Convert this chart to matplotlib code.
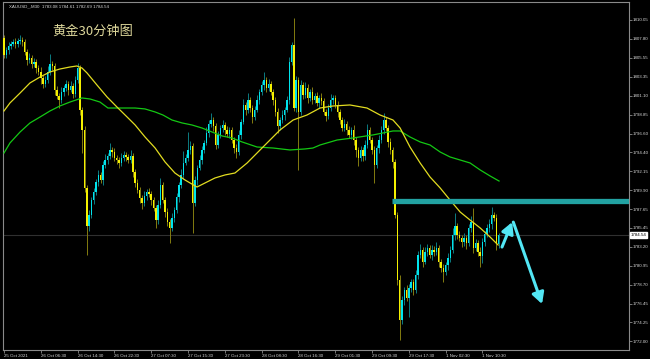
import matplotlib
matplotlib.use('Agg')
import matplotlib.pyplot as plt
import numpy as np

# ---------------------------------------------------------------------------
# XAUUSD M30 candles

first_open = 1807.92
closes = [
    1805.90, 1806.50, 1806.97, 1807.21, 1807.44, 1807.21, 1807.56, 1807.68, 1807.44, 1806.26,
    1805.31, 1805.55, 1804.84, 1805.07, 1804.36, 1803.89, 1803.18, 1802.47, 1802.94, 1803.89,
    1804.84, 1804.60, 1801.76, 1801.05, 1800.57, 1801.52, 1801.99, 1802.47, 1801.76, 1802.23,
    1801.28, 1802.94, 1804.36, 1799.39, 1797.02, 1790.15, 1785.64, 1786.95, 1788.72, 1789.67,
    1790.86, 1791.69, 1791.09, 1792.87, 1793.46, 1793.94, 1794.65, 1794.41, 1793.70, 1793.46,
    1793.11, 1793.70, 1794.06, 1793.82, 1793.46, 1793.94, 1792.04, 1790.74, 1789.91, 1788.96,
    1788.37, 1789.20, 1789.67, 1789.43, 1788.72, 1787.78, 1786.35, 1788.13, 1790.50, 1788.72,
    1787.30, 1786.12, 1785.41, 1786.59, 1787.54, 1789.08, 1790.50, 1791.69, 1793.11, 1793.70,
    1794.65, 1795.12, 1788.37, 1791.09, 1792.52, 1793.46, 1794.65, 1795.48, 1796.66, 1797.73,
    1798.20, 1797.49, 1795.24, 1796.43, 1797.25, 1797.61, 1797.02, 1796.54, 1797.02, 1795.83,
    1794.88, 1794.41, 1796.43, 1797.97, 1799.98, 1799.39, 1800.57, 1799.62, 1798.56, 1799.39,
    1800.57, 1801.52, 1802.35, 1802.94, 1801.99, 1802.47, 1801.52, 1800.57, 1799.15, 1797.49,
    1798.20, 1798.79, 1799.39, 1800.57, 1805.07, 1807.09, 1799.62, 1802.94, 1799.15, 1802.35,
    1801.16, 1801.99, 1800.81, 1801.52, 1800.57, 1801.05, 1800.22, 1800.81, 1800.45, 1799.15,
    1798.68, 1799.62, 1800.57, 1800.81, 1799.98, 1799.15, 1798.20, 1797.25, 1797.73, 1797.02,
    1796.43, 1797.02, 1795.83, 1794.65, 1793.70, 1794.65, 1793.94, 1795.24, 1797.02, 1795.83,
    1794.65, 1792.87, 1794.88, 1795.83, 1797.02, 1798.20, 1797.25, 1795.60, 1794.65, 1793.23,
    1786.95, 1779.25, 1774.51, 1776.88, 1778.06, 1777.11, 1778.30, 1779.01, 1778.06, 1779.84,
    1782.21, 1782.80, 1781.38, 1782.56, 1783.04, 1782.21, 1782.80, 1782.56, 1783.04, 1781.38,
    1780.67, 1780.19, 1781.02, 1781.85, 1782.80, 1784.58, 1785.64, 1784.58, 1784.22, 1783.75,
    1784.22, 1783.63, 1785.41, 1786.12, 1783.04, 1783.63, 1782.56, 1782.09, 1783.75, 1784.70,
    1785.41, 1785.88, 1786.95, 1786.59, 1783.51, 1784.54,
]
wick_up = [
    0.3, 0.4, 0.5, 0.3, 0.4, 0.5, 0.3, 0.6, 0.4, 0.3,
    0.4, 0.6, 0.3, 0.5, 0.4, 0.3, 0.6, 0.4, 0.5, 0.7,
    1.2, 0.4, 0.3, 0.5, 0.4, 0.6, 0.3, 0.5, 0.4, 0.6,
    0.3, 0.5, 0.6, 0.3, 0.4, 0.5, 0.3, 0.6, 0.4, 0.5,
    0.4, 0.6, 0.3, 0.5, 0.7, 0.4, 0.8, 0.3, 0.5, 0.4,
    0.3, 0.6, 0.5, 0.4, 0.3, 0.7, 0.4, 0.3, 0.5, 0.4,
    0.3, 0.6, 0.4, 0.5, 0.3, 0.4, 0.3, 0.6, 0.8, 0.4,
    0.3, 0.5, 0.4, 0.6, 0.3, 0.5, 0.4, 0.7, 1.4, 0.5,
    2.1, 0.6, 0.4, 0.5, 0.3, 0.6, 0.5, 0.4, 0.7, 0.5,
    0.8, 0.4, 0.3, 0.5, 0.4, 0.6, 0.3, 0.5, 0.4, 0.3,
    0.4, 0.5, 0.6, 0.4, 0.7, 0.3, 0.8, 0.4, 0.3, 0.5,
    0.6, 0.4, 0.5, 0.9, 0.4, 0.6, 0.3, 0.4, 0.3, 0.5,
    0.4, 0.6, 0.3, 0.5, 0.6, 0.4, 3.2, 0.5, 0.4, 0.6,
    0.4, 0.7, 0.5, 0.3, 0.6, 0.4, 0.5, 0.3, 0.6, 0.4,
    0.3, 0.5, 0.7, 0.4, 0.3, 0.5, 0.4, 0.3, 0.6, 0.4,
    0.5, 0.3, 0.6, 0.4, 0.3, 0.5, 0.4, 0.6, 0.7, 0.4,
    0.3, 0.5, 0.4, 0.6, 0.5, 0.8, 0.4, 0.3, 0.5, 0.4,
    0.3, 0.4, 0.6, 0.5, 0.4, 0.6, 0.5, 0.4, 0.3, 0.6,
    0.5, 0.7, 0.4, 0.6, 0.5, 0.4, 0.6, 0.5, 0.7, 0.4,
    0.3, 0.5, 0.4, 0.6, 0.5, 0.8, 1.5, 0.4, 0.5, 0.3,
    0.6, 0.4, 0.5, 0.7, 1.7, 0.5, 0.4, 0.6, 0.5, 0.4,
    0.5, 0.6, 1.0, 0.4, 0.5, 0.3,
]
wick_dn = [
    0.4, 0.3, 0.5, 0.4, 0.3, 0.5, 0.4, 0.3, 0.5, 0.4,
    0.6, 0.3, 0.5, 0.4, 0.6, 0.3, 0.7, 0.5, 0.4, 0.3,
    0.4, 0.5, 0.6, 0.4, 1.0, 0.3, 0.5, 0.4, 0.6, 0.3,
    0.5, 0.4, 0.3, 0.6, 2.7, 0.5, 3.4, 0.6, 0.4, 0.5,
    0.3, 0.5, 0.4, 0.6, 0.3, 0.5, 0.4, 0.6, 0.3, 0.5,
    0.6, 0.4, 0.3, 0.5, 0.4, 0.3, 0.6, 0.5, 0.4, 0.6,
    0.7, 0.4, 0.5, 0.3, 0.6, 0.4, 0.9, 0.5, 0.3, 0.4,
    0.6, 0.5, 1.8, 0.4, 0.5, 0.3, 0.6, 0.4, 0.5, 0.3,
    0.4, 0.5, 3.5, 0.4, 0.6, 0.3, 0.5, 0.4, 0.3, 0.5,
    0.4, 0.6, 0.5, 0.3, 0.4, 0.5, 0.6, 0.3, 0.5, 0.4,
    0.6, 0.7, 0.4, 0.5, 0.3, 0.6, 0.4, 0.5, 0.7, 0.4,
    0.3, 0.5, 0.4, 0.6, 0.5, 0.3, 0.4, 0.6, 0.5, 0.8,
    0.5, 0.4, 0.6, 0.3, 0.5, 0.4, 0.3, 0.5, 6.9, 0.4,
    0.5, 0.3, 0.6, 0.4, 0.5, 0.3, 0.4, 0.6, 0.5, 0.4,
    0.6, 0.4, 0.3, 0.5, 0.4, 0.6, 0.5, 0.4, 0.3, 0.6,
    0.4, 0.5, 0.6, 0.8, 1.0, 0.4, 0.6, 0.5, 0.3, 0.4,
    0.5, 2.1, 0.4, 0.6, 0.3, 0.5, 0.4, 0.6, 0.5, 0.7,
    0.4, 0.6, 2.4, 0.5, 0.6, 0.4, 2.2, 0.5, 0.6, 0.4,
    0.5, 0.4, 0.6, 0.3, 0.5, 0.4, 0.6, 0.5, 0.4, 0.6,
    0.5, 1.2, 0.4, 0.6, 0.5, 0.4, 0.6, 0.5, 0.4, 0.6,
    0.5, 0.7, 0.4, 0.5, 0.6, 0.4, 0.5, 1.3, 0.8, 0.5,
    0.4, 0.5, 0.6, 0.4, 0.7, 0.5,
]

# moving averages, sampled along the drawn lines (bar index, price)
ma_fast_x = [0, 2.6, 7, 11.3, 15.7, 20, 24.3, 28.7, 31.7, 33.9, 36.1, 40.4, 44.8, 49.1, 53.5,
             57, 61.3, 65.7, 70, 74.3, 78.7, 83.9, 87.4, 91.7, 96.1, 100.4, 105.7, 112.6, 120,
             125.7, 131.7, 137.4, 143, 150.4, 157.8, 163.5, 169.1, 172.2, 176.5, 180.9, 185.2,
             189.6, 193.9, 198.3, 202.6, 207, 211.3, 214.8]
ma_fast_y = [1799.27, 1800.22, 1801.40, 1802.59, 1803.30, 1803.89, 1804.24, 1804.48, 1804.60,
             1804.36, 1803.77, 1802.35, 1800.93, 1799.74, 1798.56, 1797.61, 1796.19, 1794.88,
             1793.23, 1791.92, 1791.09, 1790.26, 1790.74, 1791.33, 1791.69, 1791.92, 1793.11,
             1795.00, 1797.02, 1798.20, 1798.79, 1799.62, 1799.86, 1799.98, 1799.62, 1798.79,
             1798.20, 1797.25, 1795.00, 1793.11, 1791.45, 1790.15, 1788.72, 1787.30, 1786.35,
             1785.41, 1784.34, 1783.39]
ma_slow_x = [0, 2.6, 7, 11.3, 15.7, 20, 24.3, 28.7, 33.9, 37.4, 41.7, 45.2, 49.1, 57, 61.3,
             65.7, 69.1, 73, 77.4, 81.7, 86.1, 90.4, 94.8, 99.1, 103.5, 110, 117, 124.3, 130.9,
             134.3, 137.4, 144.8, 151.7, 160.4, 169.1, 172.2, 176.5, 180.9, 185.2, 189.6, 193.9,
             198.3, 202.6, 207, 211.3, 215.2]
ma_slow_y = [1794.29, 1795.48, 1796.78, 1797.85, 1798.56, 1799.27, 1799.86, 1800.33, 1800.81,
             1800.69, 1800.33, 1799.62, 1799.62, 1799.62, 1799.51, 1799.15, 1798.79, 1798.20,
             1797.85, 1797.61, 1797.25, 1796.78, 1796.31, 1796.07, 1795.60, 1795.00, 1794.88,
             1794.65, 1794.77, 1794.88, 1795.24, 1795.83, 1796.07, 1796.43, 1796.90, 1796.90,
             1796.19, 1795.60, 1795.24, 1794.41, 1793.82, 1793.46, 1793.11, 1792.28, 1791.57,
             1790.97]

# resistance band and the two hand-drawn arrows
band_price = 1788.66
band_start = 168.7
arrow_up = [(216.5, 1783.15), (220.9, 1786.1)]
arrow_down = [(221.4, 1786.1), (233.9, 1776.4)]

price_ticks = [1810.05, 1807.80, 1805.55, 1803.35, 1801.10, 1798.85, 1796.60, 1794.40, 1792.15,
               1789.90, 1787.65, 1785.45, 1783.20, 1780.95, 1778.70, 1776.45, 1774.25, 1772.00]
date_labels = ['25 Oct 2021', '26 Oct 06:30', '26 Oct 14:30', '26 Oct 22:30', '27 Oct 07:30',
               '27 Oct 15:30', '27 Oct 23:30', '28 Oct 08:30', '28 Oct 16:30', '29 Oct 01:30',
               '29 Oct 09:30', '29 Oct 17:30', '1 Nov 02:30', '1 Nov 10:30']
bars_per_label = 16
last_price = 1784.54
info = 'XAUUSD_,M30  1783.08 1784.61 1782.69 1784.54'
title = '黄金30分钟图'

#############################################################################

BULL, BEAR = '#00e4ec', '#f4f000'
BULL_WICK, BEAR_WICK = '#0c7c82', '#847c10'
GRID = '#8a8a8a'
TXT = '#d8d8d8'
SMALL = 'Liberation Sans'

closes = np.array(closes)
opens = np.concatenate([[first_open], closes[:-1]])
highs = np.maximum(opens, closes) + np.array(wick_up)
lows = np.minimum(opens, closes) - np.array(wick_dn)
idx = np.arange(len(closes))
up = closes >= opens

fig = plt.figure(figsize=(6.5, 3.59), dpi=100, facecolor='black')
ax = fig.add_axes([3 / 650, 1 - 350 / 359, 626 / 650, 348 / 359], facecolor='black')

ax.axhline(last_price, color='#303030', lw=0.8, zorder=1)

ax.vlines(idx[up], lows[up], highs[up], color=BULL_WICK, lw=0.7, zorder=2)
ax.vlines(idx[~up], lows[~up], highs[~up], color=BEAR_WICK, lw=0.7, zorder=2)
body = np.maximum(np.abs(closes - opens), 0.1)
ax.bar(idx[up], body[up], bottom=opens[up], width=0.62, color=BULL, lw=0, zorder=3)
ax.bar(idx[~up], body[~up], bottom=closes[~up], width=0.62, color=BEAR, lw=0, zorder=3)

ax.plot(ma_slow_x, ma_slow_y, color='#14c814', lw=0.9, zorder=4)
ax.plot(ma_fast_x, ma_fast_y, color='#e2dc20', lw=0.9, zorder=4)

ax.hlines(band_price, band_start, 300, color='#22a2a2', lw=3.8, zorder=5)

for (x0, y0), (x1, y1) in (arrow_up, arrow_down):
    ax.annotate('', xy=(x1, y1), xytext=(x0, y0),
                arrowprops=dict(arrowstyle='-|>,head_length=0.55,head_width=0.3',
                                color='#52e6f4', lw=2.2, mutation_scale=12,
                                shrinkA=0, shrinkB=0), zorder=6)

ax.set_xlim(-0.43, 271.7)
ax.set_ylim(1770.95, 1812.18)

for s in ax.spines.values():
    s.set_color(GRID)
    s.set_linewidth(0.8)

ax.yaxis.tick_right()
ax.set_yticks(price_ticks)
ax.set_yticklabels(['%.2f' % p for p in price_ticks], family=SMALL)
ax.set_xticks([i * bars_per_label for i in range(len(date_labels))])
ax.set_xticklabels(date_labels, ha='left', family=SMALL)
ax.tick_params(axis='both', colors=GRID, labelcolor=TXT, labelsize=3.2,
               length=1.8, width=0.6, pad=1.0)

ax.text(1.0025, (last_price - 1770.95) / (1812.18 - 1770.95), '%.2f' % last_price,
        transform=ax.transAxes, fontsize=3.2, family=SMALL, color='black',
        va='center', ha='left',
        bbox=dict(boxstyle='square,pad=0.2', fc='white', ec='white'))

fig.text(9 / 650, 1 - 6 / 359, info, fontsize=3.2, family=SMALL, color=TXT,
         va='center', ha='left')
fig.text(52 / 650, 1 - 31 / 359, title, fontsize=9.5, color='#dcd69a', va='center', ha='left',
         family=['Noto Sans CJK SC', 'DejaVu Sans'])

fig.savefig('out.png', dpi=100, facecolor='black')
plt.close(fig)
